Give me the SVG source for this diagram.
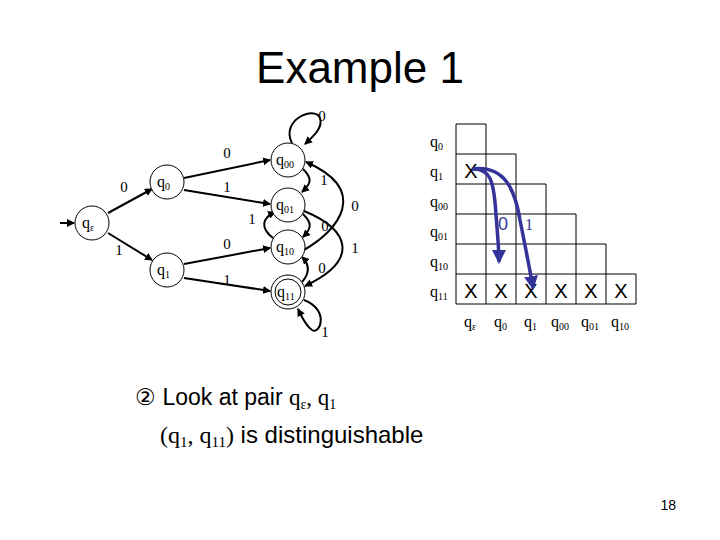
<svg xmlns="http://www.w3.org/2000/svg" width="720" height="540" viewBox="0 0 720 540">
<style>
.n{fill:#fff;stroke:#000;stroke-width:1}
.s{font-family:"Liberation Serif",serif;font-size:16px}
.l{font-family:"Liberation Serif",serif;font-size:15px}
.e{fill:none;stroke:#000;stroke-width:2;marker-end:url(#a)}
.g{fill:none;stroke:#000;stroke-width:1}
.b{fill:none;stroke:#333399;stroke-width:3.5;marker-end:url(#ab)}
.sans{font-family:"Liberation Sans",sans-serif}
</style>
<defs>
<marker id="a" markerWidth="8" markerHeight="8" refX="7" refY="4" orient="auto" markerUnits="userSpaceOnUse"><path d="M0,0L8,4L0,8z"/></marker>
<marker id="ab" markerWidth="14" markerHeight="14" refX="12" refY="7" orient="auto" markerUnits="userSpaceOnUse"><path d="M0,0L14,7L0,14z" fill="#333399"/></marker>
</defs>
<rect width="720" height="540" fill="#fff"/>
<text x="360" y="83" text-anchor="middle" class="sans" font-size="44">Example 1</text>
<g id="connectors">
<path class="e" d="M60,223L74,223"/>
<path class="e" d="M108,213L152,189"/>
<path class="e" d="M108,233L152,260"/>
<path class="e" d="M184,178L270,160"/>
<path class="e" d="M184,190L270,204"/>
<path class="e" d="M184,264L270,248"/>
<path class="e" d="M184,278L270,291"/>
<path class="e" d="M292,143C280,120 315,105 320,118C323,127 315,135 305,144"/>
<path class="e" d="M303,169C312,178 312,183 302,192"/>
<path class="e" d="M303,214C312,223 312,228 303,237"/>
<path class="e" d="M273,238C260,228 262,218 275,212"/>
<path class="e" d="M302,282C310,273 310,265 302,257"/>
<path class="e" d="M302,251C340,230 370,190 306,162"/>
<path class="e" d="M304,211C350,230 360,260 305,286"/>
<path class="e" d="M304,300C330,310 320,335 312,330C305,325 302,317 298,309"/>
</g>
<g id="labels" class="l">
<text x="124" y="192" text-anchor="middle">0</text>
<text x="119" y="255" text-anchor="middle">1</text>
<text x="227" y="158" text-anchor="middle">0</text>
<text x="227" y="192" text-anchor="middle">1</text>
<text x="227" y="249" text-anchor="middle">0</text>
<text x="227" y="285" text-anchor="middle">1</text>
<text x="322" y="121" text-anchor="middle">0</text>
<text x="324" y="185" text-anchor="middle">1</text>
<text x="325" y="231" text-anchor="middle">0</text>
<text x="252" y="224" text-anchor="middle">1</text>
<text x="322" y="273" text-anchor="middle">0</text>
<text x="355" y="211" text-anchor="middle">0</text>
<text x="355" y="253" text-anchor="middle">1</text>
<text x="325" y="337" text-anchor="middle">1</text>
</g>
<g id="qe"><circle class="n" cx="92" cy="223" r="17"/><text class="s" x="82" y="228">q<tspan font-size="10" dy="3">ε</tspan></text></g>
<g id="q0"><circle class="n" cx="167" cy="182" r="17"/><text class="s" x="157" y="187">q<tspan font-size="10" dy="3">0</tspan></text></g>
<g id="q1"><circle class="n" cx="167" cy="270" r="17"/><text class="s" x="157" y="275">q<tspan font-size="10" dy="3">1</tspan></text></g>
<g id="q00"><circle class="n" cx="288" cy="160" r="17"/><text class="s" x="276" y="165">q<tspan font-size="10" dy="3">00</tspan></text></g>
<g id="q01"><circle class="n" cx="288" cy="205" r="17"/><text class="s" x="276" y="210">q<tspan font-size="10" dy="3">01</tspan></text></g>
<g id="q10"><circle class="n" cx="288" cy="247" r="17"/><text class="s" x="276" y="252">q<tspan font-size="10" dy="3">10</tspan></text></g>
<g id="q11"><circle class="n" cx="288" cy="292" r="17"/><circle class="n" cx="288" cy="292" r="13"/><text class="s" x="277" y="297">q<tspan font-size="10" dy="3">11</tspan></text></g>
<g id="table">
<path class="g" d="M456,124H486V154H516V184H546V214H576V244H606V274H636V304H456Z"/>
<path class="g" d="M456,154H486V304M456,184H516V304M456,214H546V304M456,244H576V304M456,274H606V304"/>
<g class="s">
<text x="430" y="147">q<tspan font-size="10" dy="3">0</tspan></text>
<text x="430" y="177">q<tspan font-size="10" dy="3">1</tspan></text>
<text x="430" y="207">q<tspan font-size="10" dy="3">00</tspan></text>
<text x="430" y="237">q<tspan font-size="10" dy="3">01</tspan></text>
<text x="430" y="267">q<tspan font-size="10" dy="3">10</tspan></text>
<text x="430" y="297">q<tspan font-size="10" dy="3">11</tspan></text>
<text x="464" y="327">q<tspan font-size="10" dy="3">ε</tspan></text>
<text x="494" y="327">q<tspan font-size="10" dy="3">0</tspan></text>
<text x="524" y="327">q<tspan font-size="10" dy="3">1</tspan></text>
<text x="551" y="327">q<tspan font-size="10" dy="3">00</tspan></text>
<text x="581" y="327">q<tspan font-size="10" dy="3">01</tspan></text>
<text x="611" y="327">q<tspan font-size="10" dy="3">10</tspan></text>
</g>
<g class="sans" font-size="20" text-anchor="middle">
<text x="471" y="178">X</text>
<text x="471" y="298">X</text><text x="501" y="298">X</text><text x="531" y="298">X</text><text x="561" y="298">X</text><text x="591" y="298">X</text><text x="621" y="298">X</text>
</g>
<path class="b" d="M472,169C490,168 494,180 496,215C498,240 499,250 499,262"/>
<path class="b" d="M472,169C505,165 515,190 520,220C526,250 530,270 533,288"/>
<text x="503" y="230" text-anchor="middle" class="sans" font-size="18" fill="#333399">0</text>
<text x="529" y="230" text-anchor="middle" class="s" font-size="18" fill="#333399">1</text>
</g>
<text x="135" y="405" class="sans" font-size="23">② Look at pair <tspan font-family="Liberation Serif,serif">q<tspan font-size="14" dy="4">ε</tspan><tspan dy="-4">, q</tspan><tspan font-size="14" dy="4">1</tspan></tspan></text>
<text x="160" y="443" class="sans" font-size="24"><tspan font-family="Liberation Serif,serif">(q<tspan font-size="15" dy="4">1</tspan><tspan dy="-4">, q</tspan><tspan font-size="15" dy="4">11</tspan><tspan dy="-4">)</tspan></tspan> is distinguishable</text>
<text x="676" y="510" text-anchor="end" class="sans" font-size="14">18</text>
</svg>
